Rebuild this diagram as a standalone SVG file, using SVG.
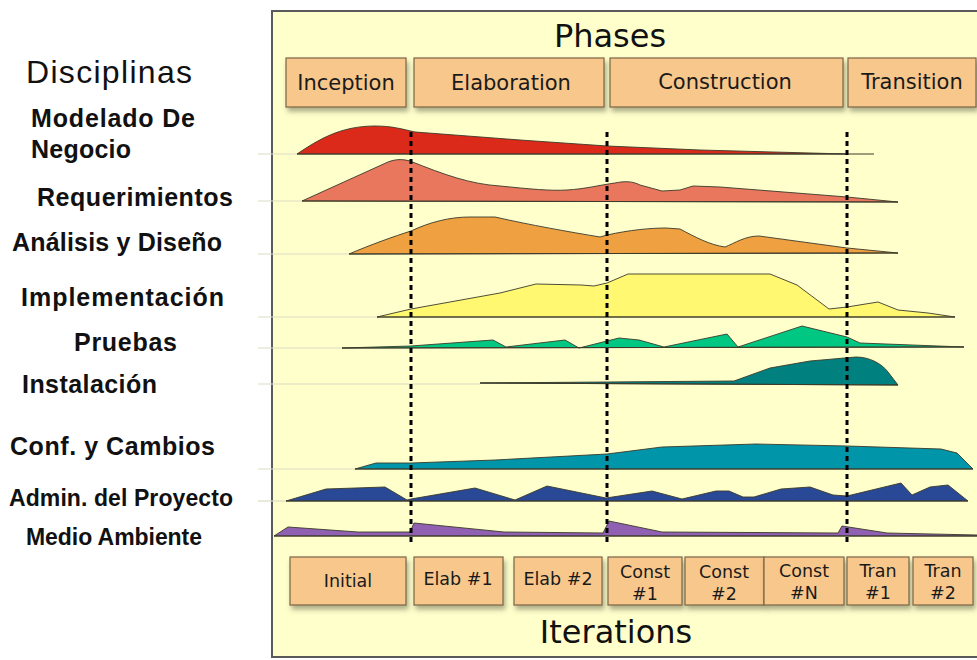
<svg xmlns="http://www.w3.org/2000/svg" width="977" height="660" viewBox="0 0 977 660">
  <defs>
    <filter id="shadow" x="-10%" y="-20%" width="130%" height="160%">
      <feDropShadow dx="2" dy="4" stdDeviation="2.5" flood-color="#6b6b50" flood-opacity="0.55"/>
    </filter>
    <style>
      .frame { fill: #FFFFCC; stroke: #5a5a5a; stroke-width: 2; }
      .box { fill: #F8C78C; stroke: #7d6547; stroke-width: 1.2; filter: url(#shadow); }
      .title { font-family: "DejaVu Sans", Verdana, sans-serif; font-size: 32px; fill: #111; text-anchor: middle; }
      .phase { font-family: "DejaVu Sans", Verdana, sans-serif; font-size: 21px; fill: #1a1a1a; text-anchor: middle; }
      .iter { font-family: "DejaVu Sans", Verdana, sans-serif; font-size: 17.5px; fill: #1a1a1a; text-anchor: middle; }
      .head { font-family: "Liberation Sans", Arial, sans-serif; font-size: 32px; fill: #111; }
      .disc { font-family: "Liberation Sans", Arial, sans-serif; font-size: 25px; font-weight: bold; fill: #111; }
      .disc.sm { font-size: 23px; }
      .area { stroke: #3a3a2a; stroke-width: 0.9; stroke-linejoin: round; }
      .base { stroke: #3a3a2a; stroke-width: 1; }
      .faint { stroke: #dcdcc4; stroke-width: 1.2; }
      .guide { stroke: #000; stroke-width: 3; stroke-dasharray: 5 4; fill: none; }
    </style>
  </defs>

  <rect width="977" height="660" fill="#ffffff"/>

  <!-- chart frame -->
  <rect class="frame" x="272" y="11" width="720" height="646"/>

  <!-- titles -->
  <text class="title" x="610" y="47">Phases</text>
  <text class="title" x="616" y="643">Iterations</text>

  <!-- phase boxes -->
  <g id="phases">
    <g id="phase-inception">
      <rect class="box" x="286" y="58" width="120" height="49"/>
      <text class="phase" x="346" y="90">Inception</text>
    </g>
    <g id="phase-elaboration">
      <rect class="box" x="414" y="58" width="190" height="49"/>
      <text class="phase" x="511" y="90">Elaboration</text>
    </g>
    <g id="phase-construction">
      <rect class="box" x="610" y="58" width="233" height="49"/>
      <text class="phase" x="725" y="89">Construction</text>
    </g>
    <g id="phase-transition">
      <rect class="box" x="848" y="58" width="128" height="49"/>
      <text class="phase" x="912" y="89">Transition</text>
    </g>
  </g>

  <!-- iteration boxes -->
  <g id="iterations">
    <g id="iter-initial">
      <rect class="box" x="290" y="557" width="116" height="48"/>
      <text class="iter" x="348" y="587">Initial</text>
    </g>
    <g id="iter-elab1">
      <rect class="box" x="414" y="557" width="89" height="48"/>
      <text class="iter" x="458" y="585">Elab #1</text>
    </g>
    <g id="iter-elab2">
      <rect class="box" x="514" y="557" width="88" height="48"/>
      <text class="iter" x="558" y="585">Elab #2</text>
    </g>
    <g id="iter-const1">
      <rect class="box" x="608" y="557" width="74" height="48"/>
      <text class="iter" x="645" y="578">Const</text>
      <text class="iter" x="645" y="600">#1</text>
    </g>
    <g id="iter-const2">
      <rect class="box" x="685" y="557" width="79" height="48"/>
      <text class="iter" x="724" y="578">Const</text>
      <text class="iter" x="724" y="600">#2</text>
    </g>
    <g id="iter-constN">
      <rect class="box" x="764" y="557" width="80" height="48"/>
      <text class="iter" x="804" y="577">Const</text>
      <text class="iter" x="804" y="599">#N</text>
    </g>
    <g id="iter-tran1">
      <rect class="box" x="847" y="557" width="62" height="48"/>
      <text class="iter" x="878" y="577">Tran</text>
      <text class="iter" x="878" y="599">#1</text>
    </g>
    <g id="iter-tran2">
      <rect class="box" x="913" y="557" width="60" height="48"/>
      <text class="iter" x="943" y="577">Tran</text>
      <text class="iter" x="943" y="599">#2</text>
    </g>
  </g>

  <!-- discipline labels -->
  <g id="labels">
    <text class="head" x="26" y="83" textLength="166">Disciplinas</text>
    <text class="disc" x="31" y="127" textLength="164">Modelado De</text>
    <text class="disc" x="31" y="158" textLength="100">Negocio</text>
    <text class="disc" x="37" y="206" textLength="196">Requerimientos</text>
    <text class="disc" x="12" y="251" textLength="210">Análisis y Diseño</text>
    <text class="disc" x="21" y="306" textLength="203">Implementación</text>
    <text class="disc" x="74" y="351" textLength="103">Pruebas</text>
    <text class="disc" x="22" y="393" textLength="135">Instalación</text>
    <text class="disc" x="10" y="455" textLength="205">Conf. y Cambios</text>
    <text class="disc sm" x="9" y="506" textLength="224">Admin. del Proyecto</text>
    <text class="disc sm" x="26" y="545" textLength="176">Medio Ambiente</text>
  </g>

  <!-- faint row baselines -->
  <g id="row-lines">
    <line class="faint" x1="258" y1="154" x2="297" y2="154"/>
    <line class="faint" x1="258" y1="201" x2="302" y2="201"/>
    <line class="faint" x1="258" y1="254" x2="349" y2="254"/>
    <line class="faint" x1="258" y1="317" x2="377" y2="317"/>
    <line class="faint" x1="258" y1="348" x2="342" y2="348"/>
    <line class="faint" x1="258" y1="384" x2="480" y2="384"/>
    <line class="faint" x1="258" y1="469" x2="355" y2="469"/>
    <line class="faint" x1="258" y1="501" x2="286" y2="501"/>
  </g>

  <!-- workload curves per discipline -->
  <g id="disc-modelado">
    <path class="area" fill="#DC2A1A" d="M297,154 C318,140 340,126 375,126 C392,126 402,129 415,132 L520,140 L607,146 L700,150 L847,154 Z"/>
    <line class="base" x1="297" y1="154" x2="874" y2="154"/>
  </g>
  <g id="disc-requerimientos">
    <path class="area" fill="#E8775E" d="M302,201 L388,162 C396,159 402,159 410,161 C445,175 470,184 500,186 C530,189 550,191 567,190 C585,189 600,185 615,183 C625,181 632,181 640,185 L662,191 L680,190 L693,186 L720,187 L847,197 L898,202 Z"/>
    <line class="base" x1="302" y1="201" x2="898" y2="202"/>
  </g>
  <g id="disc-analisis">
    <path class="area" fill="#EFA041" d="M349,254 C370,245 395,236 411,231 C430,222 450,217 470,217 L495,217 C530,225 570,232 600,237 L607,235 C630,230 650,228 666,228 L680,229 C695,237 710,245 725,247 C735,243 745,236 759,236 L847,248 L898,253 Z"/>
    <line class="base" x1="349" y1="254" x2="898" y2="253"/>
  </g>
  <g id="disc-implementacion">
    <path class="area" fill="#FFF870" d="M377,317 L411,309 L500,293 L536,284 L581,285 L594,286 L607,283 L628,274 L770,274 L797,285 L829,309 L847,307 L878,302 L898,310 L928,313 L955,317 Z"/>
    <line class="base" x1="377" y1="317" x2="955" y2="317"/>
  </g>
  <g id="disc-pruebas">
    <path class="area" fill="#00C882" d="M342,348 L411,346 L493,340 L506,347 L565,340 L579,348 L583,347 L619,338 L639,340 L664,347 L727,334 L738,347 L802,326 L847,337 L860,343 L964,347 Z"/>
    <line class="base" x1="342" y1="348" x2="964" y2="347"/>
  </g>
  <g id="disc-instalacion">
    <path class="area" fill="#008180" d="M480,383 L734,381 L770,368 L810,361 L856,357 C870,357 882,364 888,372 L898,385 Z"/>
    <line class="base" x1="480" y1="383" x2="898" y2="385"/>
  </g>
  <g id="disc-configuracion">
    <path class="area" fill="#0095A8" d="M355,469 L376,463 L411,463 L495,460 L607,454 L662,447 L756,444 L847,446 L941,449 L957,453 L973,469 Z"/>
    <line class="base" x1="355" y1="469" x2="973" y2="469"/>
  </g>
  <g id="disc-administracion">
    <path class="area" fill="#294896" d="M286,501 L326,489 L385,487 L407,500 L411,499 L475,488 L515,500 L547,486 L606,498 L652,491 L682,499 L716,491 L729,491 L743,497 L754,497 L781,489 L810,487 L833,495 L847,496 L901,483 L912,495 L930,487 L948,485 L968,501 Z"/>
    <line class="base" x1="286" y1="501" x2="968" y2="501"/>
  </g>
  <g id="disc-ambiente">
    <path class="area" fill="#9061B2" d="M274,536 L288,527 L358,532 L410,532 L414,523 L504,532 L603,533 L609,521 L662,532 L838,533 L842,526 L887,533 L977,535 L977,536 Z"/>
    <line class="base" x1="274" y1="536" x2="977" y2="536"/>
  </g>

  <!-- phase boundaries -->
  <g id="connectors">
    <line class="guide" x1="411" y1="132" x2="411" y2="546"/>
    <line class="guide" x1="607" y1="132" x2="607" y2="546"/>
    <line class="guide" x1="847" y1="132" x2="847" y2="546"/>
  </g>
</svg>
